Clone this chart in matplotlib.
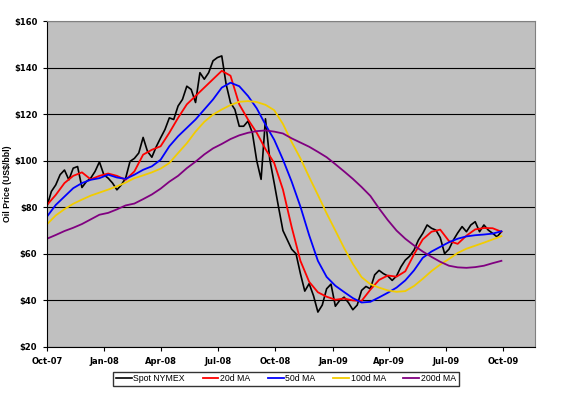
import pandas as pd
import matplotlib
matplotlib.use("Agg")
import matplotlib.pyplot as plt
import matplotlib.dates as mdates
from matplotlib.ticker import FuncFormatter

# weekly dates (Mondays) from Oct-07 to end Sep-09
weeks = pd.date_range("2007-10-01", periods=105, freq="7D")

# Spot NYMEX, weekly readings (US$/bbl)
spot = [80.5, 86.8, 89.6, 94.0, 96.0, 91.8, 96.8, 97.5, 88.5, 91.0,
        92.5, 95.4, 99.5, 94.0, 92.5, 90.4, 87.5, 89.6, 92.5, 99.7,
        101.0, 103.3, 110.0, 104.0, 101.5, 106.0, 109.8, 113.4, 118.4, 117.7,
        123.5, 126.3, 132.0, 130.6, 125.0, 137.8, 135.0, 137.8, 142.9, 144.3,
        145.0, 132.8, 124.9, 122.0, 114.8, 114.8, 117.0, 112.0, 100.0, 92.0,
        118.0, 100.4, 90.4, 80.0, 70.0, 66.0, 62.0, 60.0, 51.5, 44.0,
        47.2, 42.0, 35.0, 38.0, 45.0, 47.0, 37.5, 40.0, 41.4, 39.0,
        36.0, 38.0, 44.3, 46.0, 45.0, 51.0, 52.9, 51.5, 50.5, 48.6,
        50.5, 54.4, 57.3, 59.0, 61.6, 65.9, 68.8, 72.4, 71.0, 70.2,
        67.0, 60.1, 62.0, 65.9, 69.0, 71.7, 69.5, 72.4, 73.8, 69.5,
        72.4, 70.2, 68.8, 67.3, 69.5]

# moving averages, read every second week
ma_dates = weeks[::2]
ma20 = [81.0, 85.3, 90.4, 93.5, 95.0, 92.0, 93.5, 94.5, 93.5, 91.8,
        95.4, 102.6, 104.7, 106.2, 112.0, 118.4, 124.2, 127.8, 131.4, 135.0,
        138.6, 136.5, 124.2, 117.7, 112.0, 105.0, 99.0, 87.6, 71.5, 57.0,
        48.0, 43.5, 41.6, 40.3, 40.8, 40.0, 39.8, 44.6, 48.8, 50.7,
        50.2, 52.5, 59.8, 66.2, 69.5, 70.4, 65.5, 64.3, 67.8, 70.5,
        71.1, 71.0, 69.5]
ma50 = [76.0, 81.0, 84.6, 88.2, 90.4, 91.8, 92.5, 94.0, 92.8, 92.2,
        94.0, 96.1, 97.6, 100.4, 106.2, 110.5, 114.1, 117.7, 122.0, 126.3,
        131.4, 133.5, 132.0, 127.8, 122.5, 115.5, 109.0, 100.5, 91.0, 80.3,
        68.0, 57.0, 50.1, 46.3, 43.6, 41.0, 39.1, 39.4, 41.3, 43.3,
        45.5, 48.6, 52.9, 58.3, 61.0, 63.0, 65.0, 66.5, 67.5, 68.0,
        68.3, 68.7, 69.7]
ma100 = [72.7, 76.5, 79.2, 81.5, 83.3, 85.0, 86.3, 87.6, 89.0, 90.6,
         92.5, 93.7, 95.0, 96.6, 99.0, 103.3, 107.5, 112.5, 116.7, 119.8,
         122.0, 123.9, 125.3, 125.6, 125.2, 124.0, 121.7, 115.8, 108.0, 101.0,
         93.0, 85.3, 77.4, 70.0, 62.5, 55.7, 50.0, 47.0, 45.5, 44.3,
         43.7, 44.0, 46.2, 49.3, 52.6, 55.4, 57.8, 60.4, 62.2, 63.5,
         64.8, 66.2, 67.6]
ma200 = [66.5, 68.1, 69.8, 71.2, 72.8, 74.8, 76.8, 77.6, 79.1, 80.8,
         81.6, 83.5, 85.5, 88.0, 91.0, 93.5, 96.8, 99.6, 102.7, 105.3,
         107.2, 109.3, 110.9, 112.0, 112.7, 113.0, 112.5, 111.7, 109.6, 107.8,
         106.0, 103.8, 101.5, 98.5, 95.4, 92.2, 88.7, 84.9, 79.5, 74.5,
         70.0, 66.5, 63.6, 61.0, 58.7, 56.6, 54.9, 54.2, 54.0, 54.3,
         54.9, 56.0, 57.0]

fig = plt.figure(figsize=(5.76, 3.94), dpi=100)
ax = fig.add_axes([0.0816, 0.1193, 0.8474, 0.8274])
ax.set_facecolor("#c0c0c0")

ax.plot(weeks, spot, color="black", lw=1.2, label="Spot NYMEX")
ax.plot(ma_dates, ma20, color="#ff0000", lw=1.3, label="20d MA")
ax.plot(ma_dates, ma50, color="#0000ff", lw=1.3, label="50d MA")
ax.plot(ma_dates, ma100, color="#f2cc00", lw=1.3, label="100d MA")
ax.plot(ma_dates, ma200, color="#800080", lw=1.3, label="200d MA")

ax.set_ylim(20, 160)
ax.set_yticks(range(20, 161, 20))
ax.yaxis.set_major_formatter(FuncFormatter(lambda v, p: f"${v:.0f}"))
ax.grid(axis="y", color="black", lw=0.8)
ax.set_axisbelow(True)

ax.set_xlim(pd.Timestamp("2007-10-01"), pd.Timestamp("2009-11-21"))
ax.set_xticks(pd.date_range("2007-10-01", "2009-10-01", freq="QS"))
ax.xaxis.set_major_formatter(mdates.DateFormatter("%b-%y"))

for s in ["top", "right"]:
    ax.spines[s].set_color("#808080")
for s in ["left", "bottom"]:
    ax.spines[s].set_color("black")
ax.tick_params(direction="out", length=3, width=0.8, labelsize=6, pad=4)
for lab in ax.get_xticklabels() + ax.get_yticklabels():
    lab.set_fontweight("bold")

ax.set_ylabel("Oil Price (US$/bbl)", fontsize=6.3, fontweight="bold",
              family="Liberation Sans", labelpad=1.5)

fig.legend(loc="center", bbox_to_anchor=(0.4965, 0.039), ncol=5,
           prop={"family": "Liberation Sans", "size": 6.3},
           frameon=True, fancybox=False, edgecolor="black",
           handlelength=1.8, handletextpad=0.2, columnspacing=2.0,
           borderpad=0.3)

fig.savefig("out.png", dpi=100)
